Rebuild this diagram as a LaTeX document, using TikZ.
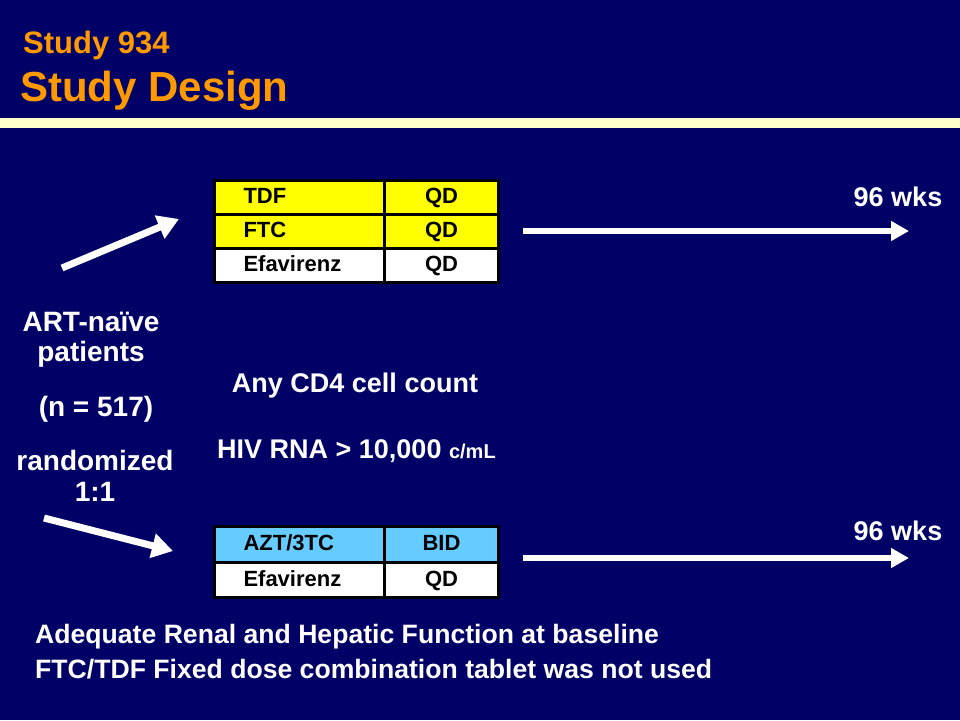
\documentclass[tikz,border=0pt]{standalone}
\usepackage{fontspec}
\setmainfont{Liberation Sans}
\usetikzlibrary{arrows.meta}
\definecolor{navy}{RGB}{0,0,102}
\definecolor{cream}{RGB}{255,255,204}
\definecolor{titleorange}{RGB}{255,153,0}
\definecolor{cellyellow}{RGB}{255,255,0}
\definecolor{cellblue}{RGB}{102,204,255}
\tikzset{
  fs/.style={font=\fontsize{#1}{#1}\selectfont\bfseries},
  txt/.style={text=white, fs=27, inner sep=0pt},
  cellA/.style={draw=black, line width=3pt, anchor=north west, minimum height=34pt,
    inner xsep=29pt, inner ysep=0pt, text width=112pt, align=left,
    text height=16pt, text depth=4pt, fs=22, text=black},
  cellB/.style={draw=black, line width=3pt, anchor=north west, minimum height=34pt,
    inner xsep=4pt, inner ysep=0pt, text width=106pt, align=center,
    text height=16pt, text depth=4pt, fs=22, text=black},
  bigarrow/.style={draw=white, line width=6pt, -{Triangle[length=18pt,width=19pt]}},
  diagarrow/.style={draw=white, line width=7pt, -{Triangle[length=21pt,width=24pt]}},
}
\begin{document}
\begin{tikzpicture}[x=1pt,y=-1pt]
\useasboundingbox (0,0) rectangle (960,720);
\fill[navy] (0,0) rectangle (960,720);
\fill[cream] (0,118) rectangle (960,128);
% titles
\node[anchor=west, text=titleorange, fs=31, inner sep=0pt] (t1) at (23,45) {Study 934};
\node[anchor=west, text=titleorange, fs=42, inner sep=0pt] (t2) at (20,91) {Study Design};
% upper table
\node[cellA, fill=cellyellow] (a1) at (213,179) {TDF};
\node[cellB, fill=cellyellow] (b1) at (383,179) {QD};
\node[cellA, fill=cellyellow] (a2) at (213,213) {FTC};
\node[cellB, fill=cellyellow] (b2) at (383,213) {QD};
\node[cellA, fill=white] (a3) at (213,247) {Efavirenz};
\node[cellB, fill=white] (b3) at (383,247) {QD};
% lower table
\node[cellA, fill=cellblue, minimum height=36pt] (c1) at (213,525) {AZT/3TC};
\node[cellB, fill=cellblue, minimum height=36pt] (d1) at (383,525) {BID};
\node[cellA, fill=white, minimum height=35pt] (c2) at (213,561) {Efavirenz};
\node[cellB, fill=white, minimum height=35pt] (d2) at (383,561) {QD};
% left texts
\node[txt, fs=28] (l1) at (91,322) {ART-naïve};
\node[txt, fs=28] (l2) at (91,354) {patients};
\node[txt, fs=28] (l3) at (96,409) {(n = 517)};
\node[txt, fs=28] (l4) at (95,460) {randomized};
\node[txt, fs=28] (l5) at (95,492) {1:1};
% middle texts
\node[txt] (m1) at (355,386) {Any CD4 cell count};
\node[txt, anchor=west] (m2) at (217,451) {HIV RNA > 10,000 {\fontsize{20}{20}\selectfont c/mL}};
% weeks
\node[txt] (w1) at (898,197) {96 wks};
\node[txt] (w2) at (898,531) {96 wks};
% bottom texts
\node[txt, fs=26.6, anchor=west] (n1) at (35,637) {Adequate Renal and Hepatic Function at baseline};
\node[txt, fs=26.6, anchor=west] (n2) at (35,669) {FTC/TDF Fixed dose combination tablet was not used};
% arrows
\coordinate (ua0) at (62,268);
\coordinate (ua1) at (179,219);
\coordinate (la0) at (44,518);
\coordinate (la1) at (173,551);
\coordinate (r10) at (523,231);
\coordinate (r11) at (909,231);
\coordinate (r20) at (523,558);
\coordinate (r21) at (909,558);
\draw[diagarrow] (ua0) -- (ua1);
\draw[diagarrow] (la0) -- (la1);
\draw[bigarrow] (r10) -- (r11);
\draw[bigarrow] (r20) -- (r21);
\end{tikzpicture}
\end{document}
